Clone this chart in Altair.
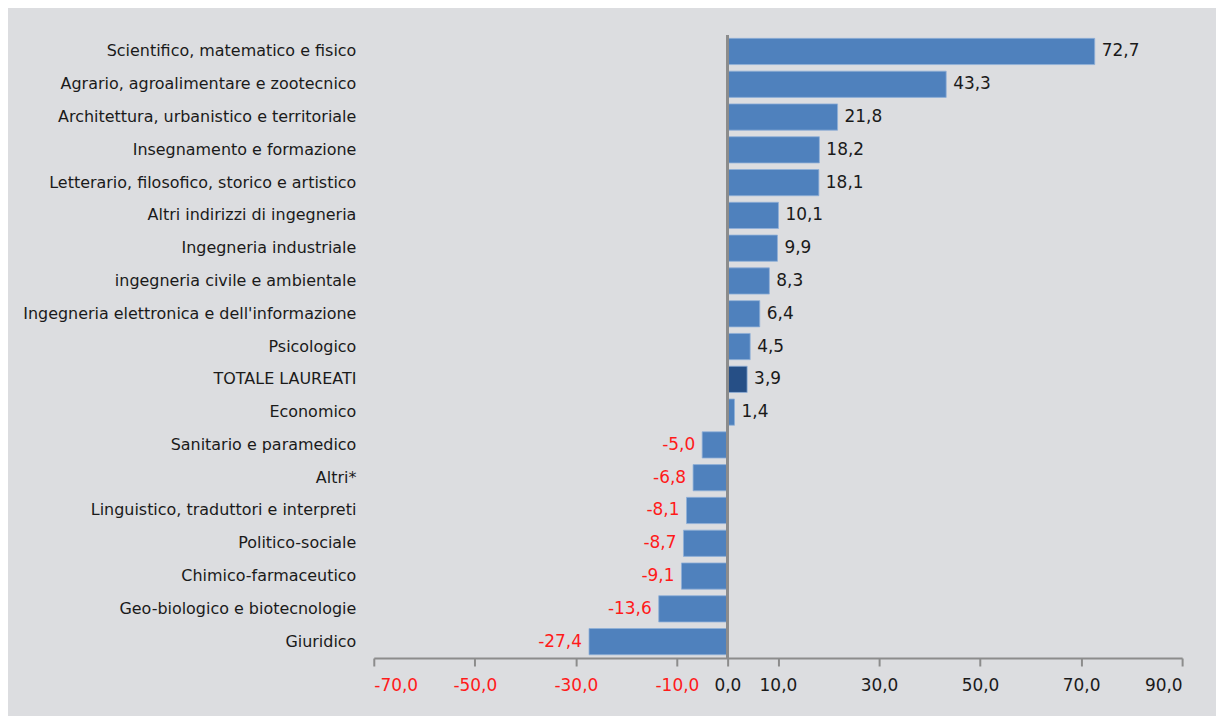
import altair as alt
import pandas as pd

categories = [
    "Scientifico, matematico e fisico",
    "Agrario, agroalimentare e zootecnico",
    "Architettura, urbanistico e territoriale",
    "Insegnamento e formazione",
    "Letterario, filosofico, storico e artistico",
    "Altri indirizzi di ingegneria",
    "Ingegneria industriale",
    "ingegneria civile e ambientale",
    "Ingegneria elettronica e dell'informazione",
    "Psicologico",
    "TOTALE LAUREATI",
    "Economico",
    "Sanitario e paramedico",
    "Altri*",
    "Linguistico, traduttori e interpreti",
    "Politico-sociale",
    "Chimico-farmaceutico",
    "Geo-biologico e biotecnologie",
    "Giuridico",
]
values = [72.7, 43.3, 21.8, 18.2, 18.1, 10.1, 9.9, 8.3, 6.4, 4.5, 3.9, 1.4,
          -5.0, -6.8, -8.1, -8.7, -9.1, -13.6, -27.4]
tick_values = [-70, -50, -30, -10, 0, 10, 30, 50, 70, 90]
highlight = "TOTALE LAUREATI"

df = pd.DataFrame({"cat": categories, "val": values})
df["label"] = [f"{v:.1f}".replace(".", ",") for v in values]
df["hl"] = ["total" if c == highlight else "normal" for c in categories]

FONT = "DejaVu Sans"
FS = 16
FS_NUM = 17
BG = "#dcdde0"

xscale = alt.Scale(domain=[-70, 90], nice=False, zero=False)
yenc = alt.Y("cat:N", sort=categories,
             scale=alt.Scale(paddingInner=0.2, paddingOuter=0.1),
             axis=alt.Axis(title=None, domain=False, ticks=False, labelPadding=18,
                           labelFontSize=FS, labelFont=FONT, labelColor="#1a1a1a",
                           labelLimit=400))

base = alt.Chart(df)

bars = base.mark_bar(stroke="#8fb0d8", strokeWidth=0.8).encode(
    x=alt.X("val:Q", scale=xscale,
            axis=alt.Axis(title=None, values=tick_values, grid=False,
                          labelExpr="(datum.value < 0 ? '-' : '') + replace(format(abs(datum.value), '.1f'), '.', ',')",
                          labelColor=alt.condition("datum.value < 0", alt.value("#ff1a1a"), alt.value("#1a1a1a")),
                          labelFontSize=FS_NUM, labelFont=FONT, labelPadding=12,
                          tickSize=8, tickColor="#8c8c8c", tickWidth=2,
                          domainColor="#8c8c8c", domainWidth=2)),
    x2=alt.datum(0),
    y=yenc,
    color=alt.Color("hl:N", scale=alt.Scale(domain=["normal", "total"],
                                             range=["#4f81bd", "#264f86"]), legend=None),
)

zero_rule = base.mark_rule(color="#8c8c8c", strokeWidth=2).encode(
    x=alt.datum(0),
)

pos_text = base.transform_filter("datum.val >= 0").mark_text(
    align="left", baseline="middle", dx=7, fontSize=FS_NUM, font=FONT, color="#1a1a1a"
).encode(x=alt.X("val:Q", scale=xscale), y=alt.Y("cat:N", sort=categories), text="label:N")

neg_text = base.transform_filter("datum.val < 0").mark_text(
    align="right", baseline="middle", dx=-7, fontSize=FS_NUM, font=FONT, color="#ff1a1a"
).encode(x=alt.X("val:Q", scale=xscale), y=alt.Y("cat:N", sort=categories), text="label:N")

chart = alt.layer(bars, zero_rule, pos_text, neg_text).properties(
    width=811, height=625,
    background=BG,
    padding={"left": 367, "top": 26, "right": 34, "bottom": 57},
    autosize=alt.AutoSizeParams(type="none"),
).configure_view(stroke=None)

chart.save("out.html", embed_options={"renderer": "svg", "actions": False})
